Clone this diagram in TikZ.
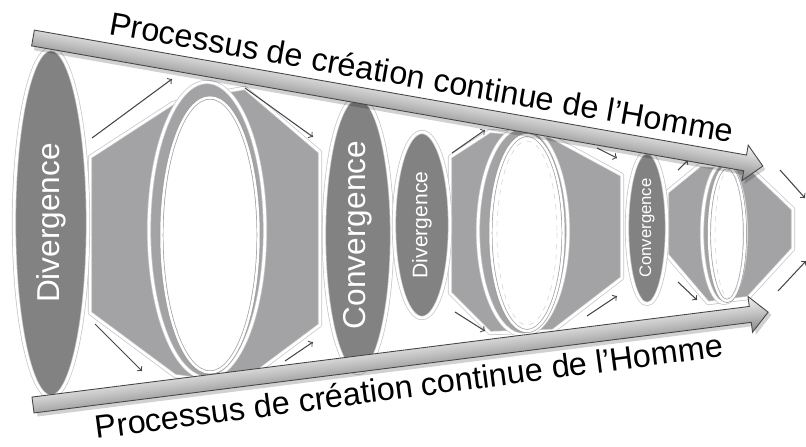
\documentclass[tikz,border=0pt]{standalone}
\usepackage{fontspec}
\setmainfont{Liberation Sans}
\usepackage{tikz}
\usetikzlibrary{shapes.geometric}
\definecolor{stagedark}{HTML}{828282}
\definecolor{stagelight}{HTML}{A3A3A5}
\definecolor{rimline}{HTML}{C4C4C4}
\tikzstyle{rim} = [draw=rimline, double=white, double distance=1.6pt, line width=0.4pt]
\tikzstyle{funnel} = [rim, fill=stagelight, line join=round]
\tikzstyle{lens} = [ellipse, rim, fill=stagedark, inner sep=0pt, rotate=90, text=white]
\tikzstyle{ring} = [ellipse, rim, fill=stagelight, inner sep=0pt]
\tikzstyle{hole} = [ellipse, fill=white, draw=gray!75, double=white, double distance=1.4pt, line width=0.4pt, inner sep=0pt]
\tikzstyle{flow} = [draw=gray!55!black, line width=0.6pt, ->, >=to]
\tikzstyle{bar} = [draw=gray!55!black, line width=0.5pt, top color=gray!10, bottom color=gray!95, middle color=gray!50]
\tikzstyle{barshadow} = [fill=black, opacity=0.18]
\tikzstyle{bartext} = [font=\fontsize{18.4}{21}\selectfont, inner sep=0pt]

\begin{document}
\begin{tikzpicture}[x=0.02cm, y=-0.02cm]
    \useasboundingbox (0,0) rectangle (806,447);
    % gray funnels between the stages
    \draw[funnel] (90,157) -- (173,103) -- (210,94) -- (245,88) -- (320,152) -- (320,325) -- (257,372) -- (205,380) -- (175,376) -- (90,313) -- cycle;
    \draw[funnel] (450,157) -- (490,131) -- (550,136) -- (622,175) -- (622,278) -- (553,331) -- (490,333) -- (450,293) -- cycle;
    \draw[funnel] (667,192) -- (700,165) -- (750,168) -- (793,209) -- (793,249) -- (748,298) -- (708,303) -- (667,255) -- cycle;
    % open stages
    \node (ringA) [ring, minimum width=2.32cm, minimum height=5.92cm] at (207,230) {};
    \node (holeA) [hole, minimum width=1.94cm, minimum height=5.5cm] at (210,235) {};
    \node (ringB) [ring, minimum width=1.8cm, minimum height=4.16cm] at (523,231) {};
    \node (holeB) [hole, minimum width=1.46cm, minimum height=3.92cm] at (527,233) {};
    \draw[gray!35, dashed, line width=0.3pt] (527,233) ellipse (30 and 92);
    \node (ringC) [ring, minimum width=0.88cm, minimum height=2.8cm] at (724,233) {};
    \node (holeC) [hole, minimum width=0.72cm, minimum height=2.68cm] at (727,234) {};
    \draw[gray!35, dashed, line width=0.3pt] (729,234) ellipse (14 and 64);
    % labelled stages
    \node (divA) [lens, minimum width=6.96cm, minimum height=1.48cm, font=\fontsize{18}{20}\selectfont] at (51,223) {Divergence};
    \node (convA) [lens, minimum width=5.52cm, minimum height=1.36cm, font=\fontsize{18}{20}\selectfont] at (358,235) {Convergence};
    \node (divB) [lens, minimum width=3.72cm, minimum height=1.12cm, font=\fontsize{12}{14}\selectfont] at (422,225) {Divergence};
    \node (convB) [lens, minimum width=3.04cm, minimum height=0.8cm, font=\fontsize{9.5}{11}\selectfont] at (647,228) {Convergence};
    % small flow arrows
    \draw[flow] (92,138) -- (172,79);
    \draw[flow] (245,88) -- (313,137);
    \draw[flow] (452,153) -- (485,130);
    \draw[flow] (597,148) -- (617,158);
    \draw[flow] (678,170) -- (688,160);
    \draw[flow] (780,170) -- (805,198);
    \draw[flow] (95,324) -- (142,371);
    \draw[flow] (285,361) -- (313,342);
    \draw[flow] (455,312) -- (485,331);
    \draw[flow] (587,316) -- (617,296);
    \draw[flow] (678,282) -- (697,300);
    \draw[flow] (778,291) -- (806,261);
    % long arrows
    \begin{scope}[transform canvas={shift={(33,38)}, rotate=-9.95}]
        \fill[barshadow] (3,-5) -- (726,-5) -- (726,-15) -- (744,3) -- (726,21) -- (726,12) -- (3,12) -- cycle;
        \draw[bar] (0,-8) -- (723,-8) -- (723,-18) -- (741,0) -- (723,18) -- (723,8) -- (0,8) -- cycle;
    \end{scope}
    \begin{scope}[transform canvas={shift={(33,405)}, rotate=7.2}]
        \fill[barshadow] (3,-5) -- (726,-5) -- (726,-15) -- (744,3) -- (726,21) -- (726,12) -- (3,12) -- cycle;
        \draw[bar] (0,-8) -- (723,-8) -- (723,-18) -- (741,0) -- (723,18) -- (723,8) -- (0,8) -- cycle;
    \end{scope}
    \node (topline) [bartext, rotate=-9.9] at (422,77) {Processus de création continue de l’Homme};
    \node (bottomline) [bartext, rotate=7.5] at (409,386) {Processus de création continue de l’Homme};
\end{tikzpicture}
\end{document}
